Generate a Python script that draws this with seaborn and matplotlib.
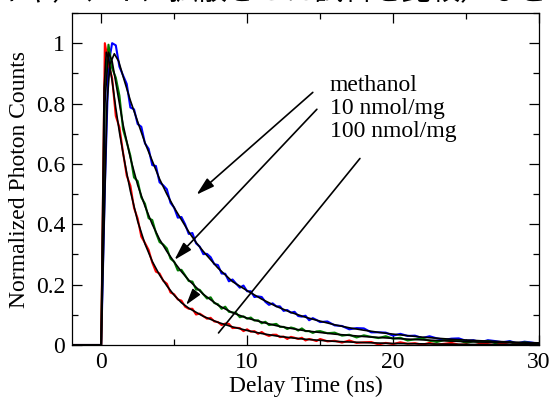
import numpy as np
import pandas as pd
import matplotlib
matplotlib.use("Agg")
import matplotlib.pyplot as plt
import seaborn as sns
from matplotlib.ticker import MultipleLocator, FuncFormatter

# ---------------- data ----------------
time_ns = [-2.0,
           0.0, 0.25, 0.5, 0.75, 1.0, 1.25, 1.5, 1.75, 2.0, 2.25, 2.5, 2.75, 3.0, 3.25, 3.5, 3.75,
           4.0, 4.25, 4.5, 4.75, 5.0, 5.25, 5.5, 5.75, 6.0, 6.25, 6.5, 6.75, 7.0, 7.25, 7.5, 7.75,
           8.0, 8.25, 8.5, 8.75, 9.0, 9.25, 9.5, 9.75, 10.0, 10.25, 10.5, 10.75, 11.0, 11.25, 11.5, 11.75,
           12.0, 12.25, 12.5, 12.75, 13.0, 13.25, 13.5, 13.75, 14.0, 14.25, 14.5, 14.75, 15.0,
           15.5, 16.0, 16.5, 17.0, 17.5, 18.0, 18.5, 19.0, 19.5, 20.0, 20.5, 21.0, 21.5, 22.0, 22.5,
           23.0, 23.5, 24.0, 24.5, 25.0, 25.5, 26.0, 26.5, 27.0, 27.5, 28.0, 28.5, 29.0, 29.5, 30.0]

methanol_counts = [0.0,
    0.0, 0.52, 0.93, 1.0, 0.993, 0.922, 0.893, 0.865, 0.787, 0.781, 0.732, 0.723, 0.668, 0.650, 0.596, 0.593,
    0.539, 0.529, 0.516, 0.471, 0.455, 0.422, 0.424, 0.400, 0.368, 0.371, 0.337, 0.326, 0.301, 0.302, 0.291, 0.268,
    0.265, 0.237, 0.236, 0.211, 0.217, 0.203, 0.190, 0.197, 0.178, 0.178, 0.159, 0.161, 0.159, 0.143, 0.133, 0.138,
    0.128, 0.128, 0.113, 0.116, 0.107, 0.110, 0.096, 0.094, 0.097, 0.082, 0.089, 0.083, 0.076,
    0.078, 0.065, 0.063, 0.052, 0.056, 0.055, 0.042, 0.042, 0.041, 0.031, 0.037, 0.030, 0.031, 0.023, 0.029,
    0.022, 0.017, 0.021, 0.022, 0.014, 0.016, 0.009, 0.016, 0.013, 0.009, 0.013, 0.005, 0.011, 0.008, 0.004]

nmol10_counts = [0.0,
    0.0, 0.86, 0.995, 0.917, 0.886, 0.826, 0.714, 0.672, 0.627, 0.555, 0.543, 0.489, 0.468, 0.420, 0.414, 0.372,
    0.341, 0.333, 0.320, 0.286, 0.276, 0.247, 0.249, 0.231, 0.212, 0.210, 0.184, 0.183, 0.168, 0.154, 0.158, 0.139,
    0.135, 0.120, 0.127, 0.110, 0.108, 0.106, 0.092, 0.095, 0.087, 0.091, 0.081, 0.082, 0.072, 0.077, 0.066, 0.068,
    0.070, 0.060, 0.060, 0.053, 0.058, 0.055, 0.048, 0.055, 0.046, 0.046, 0.040, 0.045, 0.046,
    0.039, 0.041, 0.031, 0.034, 0.025, 0.032, 0.027, 0.023, 0.029, 0.021, 0.024, 0.015, 0.019, 0.021, 0.014,
    0.010, 0.016, 0.013, 0.016, 0.007, 0.012, 0.009, 0.014, 0.006, 0.007, 0.011, 0.001, 0.009, 0.006, 0.003]

nmol100_counts = [0.0,
    0.0, 1.0, 0.933, 0.884, 0.759, 0.721, 0.637, 0.561, 0.528, 0.454, 0.419, 0.359, 0.338, 0.315, 0.273, 0.243,
    0.237, 0.213, 0.203, 0.174, 0.168, 0.151, 0.147, 0.127, 0.120, 0.120, 0.101, 0.104, 0.096, 0.087, 0.090, 0.078,
    0.076, 0.066, 0.071, 0.070, 0.056, 0.057, 0.056, 0.046, 0.052, 0.044, 0.046, 0.037, 0.043, 0.035, 0.030, 0.034,
    0.034, 0.026, 0.028, 0.020, 0.027, 0.024, 0.020, 0.024, 0.015, 0.020, 0.017, 0.013, 0.020,
    0.012, 0.014, 0.008, 0.015, 0.007, 0.009, 0.010, 0.002, 0.007, 0.003, 0.009, 0.004, 0.006, 0.001, 0.007,
    0.001, 0.004, 0.007, 0.001, 0.002, -0.002, 0.005, 0.003, -0.001, 0.006, 0.000, 0.002, -0.002, 0.003, 0.005]

# fitted curves (black)
fit_methanol_t = [-2, 0, 0.2, 0.4, 0.6, 0.9, 1.2, 1.5, 2, 2.5, 3, 3.5, 4, 4.5, 5, 5.5, 6, 6.5, 7, 8, 9, 10,
                  11, 12, 13, 14, 15, 16, 17, 18, 19, 20, 22, 24, 26, 28, 30]
fit_methanol_y = [0, 0, 0.4, 0.8, 0.93, 0.965, 0.94, 0.89, 0.81, 0.74, 0.67, 0.61, 0.55, 0.50, 0.455, 0.415,
                  0.375, 0.34, 0.31, 0.255, 0.21, 0.18, 0.152, 0.128, 0.108, 0.092, 0.079, 0.067, 0.057, 0.049,
                  0.042, 0.036, 0.026, 0.019, 0.014, 0.010, 0.007]
fit_10_t = [-2, 0, 0.1, 0.25, 0.5, 0.75, 1, 1.25, 1.5, 2, 2.5, 3, 3.5, 4, 4.5, 5, 5.5, 6, 7, 8, 9, 10,
            11, 12, 13, 14, 16, 18, 20, 22, 25, 30]
fit_10_y = [0, 0, 0.35, 0.8, 0.97, 0.94, 0.87, 0.80, 0.73, 0.62, 0.53, 0.46, 0.40, 0.35, 0.31, 0.275, 0.243,
            0.215, 0.168, 0.132, 0.107, 0.089, 0.076, 0.064, 0.055, 0.047, 0.036, 0.028, 0.022, 0.017, 0.011, 0.005]
fit_100_t = [-2, 0, 0.1, 0.2, 0.35, 0.5, 0.75, 1, 1.25, 1.5, 1.75, 2, 2.5, 3, 3.5, 4, 4.5, 5, 5.5, 6, 7, 8,
             9, 10, 11, 12, 13, 14, 16, 18, 20, 25, 30]
fit_100_y = [0, 0, 0.45, 0.85, 0.97, 0.95, 0.875, 0.785, 0.705, 0.635, 0.57, 0.51, 0.41, 0.335, 0.277, 0.232,
             0.196, 0.165, 0.14, 0.122, 0.095, 0.075, 0.06, 0.048, 0.038, 0.030, 0.024, 0.019, 0.012, 0.008,
             0.005, 0.002, 0.001]

labels = ["methanol", "10 nmol/mg", "100 nmol/mg"]
colors = ["#0000ff", "#007a00", "#ff0000"]
x_label = "Delay Time (ns)"
y_label = "Normalized Photon Counts"
top_text = "キャ）、イに拡散させた試料を比較）など"

# ---------------- style ----------------
sns.set_style("ticks")
plt.rcParams['font.family'] = ['Liberation Serif', 'Noto Sans CJK JP', 'DejaVu Sans']
plt.rcParams['text.color'] = 'black'
plt.rcParams['axes.labelcolor'] = 'black'
plt.rcParams['xtick.color'] = 'black'
plt.rcParams['ytick.color'] = 'black'
plt.rcParams['axes.edgecolor'] = 'black'

fig = plt.figure(figsize=(5.51, 3.98), dpi=100)
ax = fig.add_axes([72/551, 1-345/398, (539-72)/551, (345-13)/398])

data_series = [methanol_counts, nmol10_counts, nmol100_counts]
for ys, c, lab in zip(data_series, colors, labels):
    df = pd.DataFrame({"t": time_ns, "y": ys})
    sns.lineplot(data=df, x="t", y="y", color=c, lw=1.5, ax=ax, estimator=None, sort=False)

for ft, fy in [(fit_methanol_t, fit_methanol_y), (fit_10_t, fit_10_y), (fit_100_t, fit_100_y)]:
    df = pd.DataFrame({"t": ft, "y": fy})
    sns.lineplot(data=df, x="t", y="y", color="black", lw=1.2, ax=ax, estimator=None, sort=False)

ax.set_xlim(-2, 30)
ax.set_ylim(0, 1.1)
ax.xaxis.set_major_locator(MultipleLocator(10))
ax.xaxis.set_minor_locator(MultipleLocator(5))
ax.yaxis.set_major_locator(MultipleLocator(0.2))
ax.yaxis.set_minor_locator(MultipleLocator(0.1))
fmt = FuncFormatter(lambda v, p: f"{v:g}")
ax.xaxis.set_major_formatter(fmt)
ax.yaxis.set_major_formatter(fmt)
ax.tick_params(which='both', direction='in', top=True, right=True, labelsize=17,
               color='black', labelcolor='black')
ax.tick_params(which='major', length=7, width=0.9, pad=5)
ax.tick_params(which='minor', length=4.5, width=0.9)
for s in ax.spines.values():
    s.set_linewidth(0.9)
    s.set_color('black')
    s.set_visible(True)

ax.set_xlabel(x_label, fontsize=17, labelpad=2, color='black')
ax.set_ylabel(y_label, fontsize=17, labelpad=4, color='black')

# legend-like labels and arrows
for lab, yb in zip(labels, [0.8415, 0.764, 0.690]):
    ax.text(15.67, yb, lab, fontsize=17, va='baseline', ha='left', color='black')

head = dict(arrowstyle="-|>,head_length=0.55,head_width=0.16", mutation_scale=20,
            color='black', lw=1.2, shrinkA=0, shrinkB=0)
ax.annotate("", xy=(6.53, 0.498), xytext=(14.5, 0.837), arrowprops=head)
ax.annotate("", xy=(5.02, 0.282), xytext=(14.78, 0.781), arrowprops=head)
ax.annotate("", xy=(8.04, 0.040), xytext=(17.73, 0.618),
            arrowprops=dict(arrowstyle="-", color='black', lw=1.2, shrinkA=0, shrinkB=0))
small = dict(arrowstyle="-|>,head_length=0.5,head_width=0.15", mutation_scale=20,
             color='black', lw=1.0, shrinkA=0, shrinkB=0)
ax.annotate("", xy=(5.82, 0.133), xytext=(6.45, 0.172), arrowprops=small)

# partially visible line of text above the chart (cropped in the reference)
fig.text(548/551, 1.0, top_text, fontsize=21, ha='right', va='baseline', color='black',
         family=['Noto Sans CJK JP', 'DejaVu Sans'])

fig.savefig("out.png", dpi=100)
